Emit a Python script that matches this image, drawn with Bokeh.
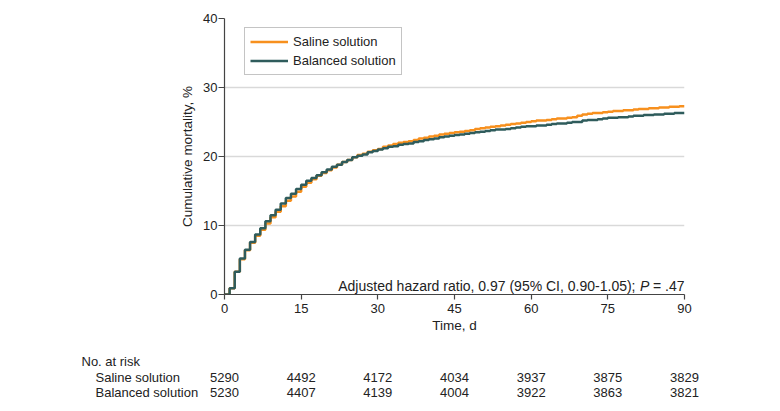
from bokeh.plotting import figure
from bokeh.layouts import column
from bokeh.models import Range1d, Label, Legend, LegendItem, FixedTicker
from bokeh.embed import file_html
from bokeh.resources import INLINE
from bokeh.core.properties import value

# ---- data ----
days = list(range(0, 91))
saline = [0.0, 0.9, 3.3, 5.1, 6.4, 7.5, 8.5, 9.4, 10.3, 11.2,
          12.0, 12.8, 13.6, 14.2, 14.9, 15.6, 16.2, 16.7, 17.2, 17.6,
          18.0, 18.4, 18.8, 19.2, 19.5, 19.9, 20.2, 20.4, 20.7, 20.9,
          21.1, 21.4, 21.6, 21.8, 22.0, 22.1, 22.2, 22.4, 22.6, 22.7,
          22.9, 23.0, 23.2, 23.3, 23.4, 23.5, 23.6, 23.7, 23.8, 24.0,
          24.1, 24.2, 24.3, 24.4, 24.5, 24.6, 24.7, 24.8, 24.9, 25.0,
          25.1, 25.2, 25.2, 25.3, 25.4, 25.5, 25.5, 25.6, 25.7, 25.9,
          26.1, 26.2, 26.3, 26.3, 26.4, 26.5, 26.6, 26.6, 26.7, 26.7,
          26.8, 26.9, 26.9, 27.0, 27.0, 27.1, 27.1, 27.2, 27.2, 27.3,
          27.3]
balanced = [0.0, 0.9, 3.3, 5.2, 6.5, 7.6, 8.7, 9.6, 10.6, 11.5,
            12.3, 13.2, 14.0, 14.6, 15.3, 15.9, 16.5, 16.9, 17.3, 17.7,
            18.1, 18.5, 18.8, 19.2, 19.5, 19.9, 20.1, 20.3, 20.6, 20.8,
            21.0, 21.2, 21.4, 21.5, 21.7, 21.8, 21.9, 22.1, 22.2, 22.4,
            22.5, 22.6, 22.8, 22.9, 23.0, 23.1, 23.2, 23.3, 23.4, 23.5,
            23.6, 23.7, 23.8, 23.9, 23.9, 24.0, 24.1, 24.2, 24.3, 24.4,
            24.4, 24.5, 24.5, 24.6, 24.7, 24.8, 24.8, 24.9, 25.0, 25.0,
            25.2, 25.3, 25.3, 25.4, 25.5, 25.6, 25.6, 25.7, 25.7, 25.8,
            25.9, 25.9, 26.0, 26.0, 26.1, 26.1, 26.2, 26.2, 26.3, 26.3,
            26.3]
series_names = ["Saline solution", "Balanced solution"]
x_ticks = [0, 15, 30, 45, 60, 75, 90]
y_ticks = [0, 10, 20, 30, 40]
risk_saline = [5290, 4492, 4172, 4034, 3937, 3875, 3829]
risk_balanced = [5230, 4407, 4139, 4004, 3922, 3863, 3821]
annotation = "Adjusted hazard ratio, 0.97 (95% CI, 0.90-1.05);"

FONT = "Liberation Sans"
TXT = "#222222"
ORANGE = "#F7901E"
TEAL = "#2F5C5C"

W = 764
LEFT, FRAME_W, TOP, FRAME_H = 224, 460, 18, 276
MAIN_H = 340

p = figure(width=W, height=MAIN_H, output_backend="svg", toolbar_location=None,
           x_range=Range1d(0, 90), y_range=Range1d(0, 40),
           min_border_left=LEFT, min_border_right=W - LEFT - FRAME_W,
           min_border_top=TOP, min_border_bottom=MAIN_H - TOP - FRAME_H)
p.outline_line_color = None
p.background_fill_color = "white"
p.frame_align = False

r1 = p.step(days, saline, mode="after", line_color=ORANGE, line_width=2.5)
r2 = p.step(days, balanced, mode="after", line_color=TEAL, line_width=2.5)

for ax in (p.xaxis[0], p.yaxis[0]):
    ax.axis_line_color = "#444444"
    ax.axis_line_width = 1.2
    ax.major_tick_line_color = "#444444"
    ax.major_tick_line_width = 1.2
    ax.major_tick_in = 0
    ax.minor_tick_line_color = None
    ax.major_label_text_font = FONT
    ax.major_label_text_font_size = "13px"
    ax.major_label_text_color = TXT
    ax.axis_label_text_font = FONT
    ax.axis_label_text_font_size = "13.5px"
    ax.axis_label_text_font_style = "normal"
    ax.axis_label_text_color = TXT

p.xaxis.ticker = FixedTicker(ticks=x_ticks)
p.yaxis.ticker = FixedTicker(ticks=y_ticks)
p.xaxis.major_tick_out = 5
p.yaxis.major_tick_out = 6
p.xaxis.major_label_standoff = 4
p.yaxis.major_label_standoff = 1
p.xaxis.axis_label = "Time, d"
p.yaxis.axis_label = "Cumulative mortality, %"
p.xaxis.axis_label_standoff = 2
p.yaxis.axis_label_standoff = 5

p.xgrid.visible = False
p.ygrid.ticker = FixedTicker(ticks=[10, 20, 30, 40])
p.ygrid.grid_line_color = "#d9d9d9"
p.ygrid.grid_line_width = 1.5

legend = Legend(items=[LegendItem(label=series_names[0], renderers=[r1]),
                       LegendItem(label=series_names[1], renderers=[r2])],
                location=(20, 219))
legend.border_line_color = "#8a8a8a"
legend.border_line_width = 1
legend.background_fill_color = "white"
legend.background_fill_alpha = 1
legend.padding = 5
legend.spacing = 2
legend.margin = 0
legend.label_height = 17
legend.glyph_height = 17
legend.glyph_width = 38
legend.label_standoff = 5
legend.label_text_font = FONT
legend.label_text_font_size = "13px"
legend.label_text_color = TXT
p.add_layout(legend)

# annotation with italic P
ann_y = 1.3
p.add_layout(Label(x=90, y=ann_y, x_offset=-49, text=annotation, text_align="right",
                   text_baseline="alphabetic", text_font=FONT, text_font_size="14px",
                   text_color=TXT))
p.add_layout(Label(x=90, y=ann_y, x_offset=-44.5, text="P", text_align="left",
                   text_baseline="alphabetic", text_font=FONT, text_font_size="14px",
                   text_font_style="italic", text_color=TXT))
p.add_layout(Label(x=90, y=ann_y, x_offset=0, text="= .47", text_align="right",
                   text_baseline="alphabetic", text_font=FONT, text_font_size="14px",
                   text_color=TXT))

# ---- number at risk table (second figure, same x mapping) ----
TAB_H = 63
px_per_day = FRAME_W / 90.0
t = figure(width=W, height=TAB_H, output_backend="svg", toolbar_location=None,
           x_range=Range1d(-LEFT / px_per_day, (W - LEFT) / px_per_day),
           y_range=Range1d(TAB_H, 0),
           min_border_left=0, min_border_right=0, min_border_top=0, min_border_bottom=0)
t.axis.visible = False
t.grid.visible = False
t.outline_line_color = None
t.frame_align = False

def tx(page_x):
    return (page_x - LEFT) / px_per_day

row_y = [21, 36.5, 52]
label_x = tx(81)
name_x = tx(95)
t.text(x=[label_x], y=[row_y[0]], text=["No. at risk"], text_align="left",
       text_baseline="middle", text_font=value(FONT), text_font_size="13px",
       text_color=TXT)
t.text(x=[name_x, name_x], y=[row_y[1], row_y[2]], text=series_names,
       text_align="left", text_baseline="middle", text_font=value(FONT),
       text_font_size="13px", text_color=TXT)
for row, yy in ((risk_saline, row_y[1]), (risk_balanced, row_y[2])):
    t.text(x=x_ticks, y=[yy] * len(x_ticks), text=[str(n) for n in row],
           text_align="center", text_baseline="middle", text_font=value(FONT),
           text_font_size="13px", text_color=TXT)

layout = column(p, t, spacing=0)
open("out.html", "w").write(file_html(layout, INLINE))
